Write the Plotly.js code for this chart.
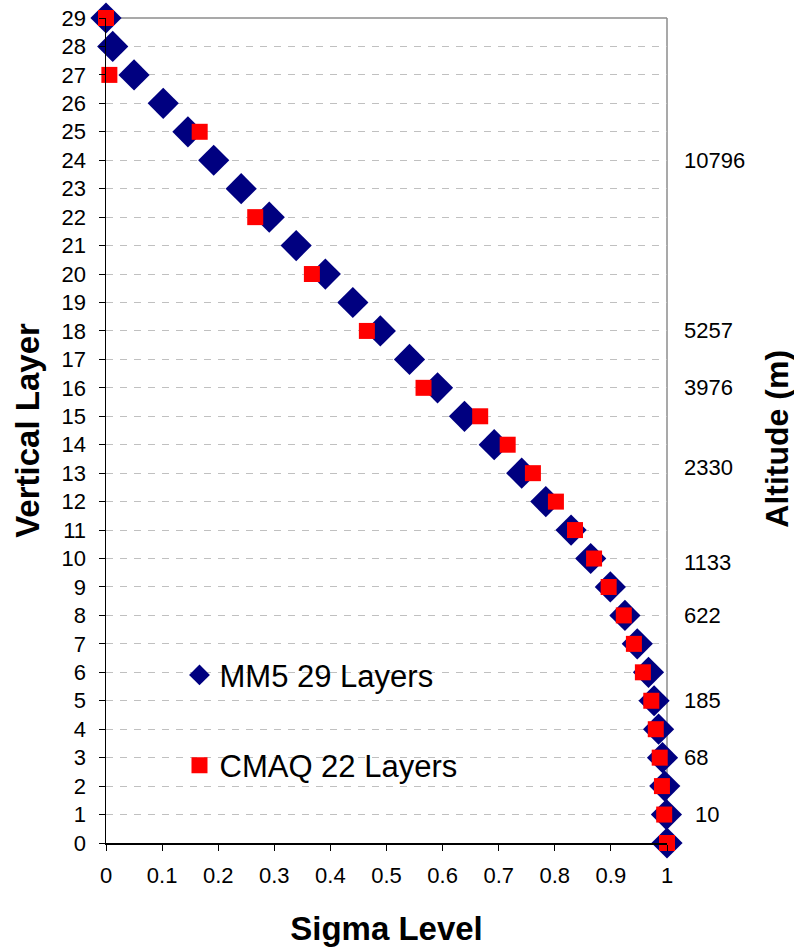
<!DOCTYPE html>
<html>
<head>
<meta charset="utf-8">
<script src="https://cdn.plot.ly/plotly-3.0.1.min.js"></script>
<style>
  html, body { margin: 0; padding: 0; background: #fff; }
  #chart { width: 794px; height: 950px; }
</style>
</head>
<body>
<div id="chart"></div>
<script>
// MM5 sigma levels, layer 0 (surface) to 29 (top)
var mm5Layers = [0, 1, 2, 3, 4, 5, 6, 7, 8, 9, 10, 11, 12, 13, 14, 15, 16, 17, 18, 19, 20, 21, 22, 23, 24, 25, 26, 27, 28, 29];
var mm5Sigma = [1.0, 0.999, 0.996, 0.992, 0.985, 0.977, 0.967, 0.947, 0.925, 0.899, 0.864, 0.829, 0.784, 0.741, 0.692,
                0.639, 0.591, 0.541, 0.489, 0.44, 0.391, 0.339, 0.291, 0.241, 0.192, 0.146, 0.102, 0.05, 0.012, 0.0];

// CMAQ sigma levels, plotted on the MM5 layer they line up with
var cmaqLayers = [0, 1, 2, 3, 4, 5, 6, 7, 8, 9, 10, 11, 12, 13, 14, 15, 16, 18, 20, 22, 25, 27, 29];
var cmaqSigma = [1.0, 0.995, 0.991, 0.987, 0.98, 0.972, 0.957, 0.941, 0.923, 0.896, 0.87, 0.836, 0.802, 0.761, 0.716,
                 0.667, 0.566, 0.465, 0.367, 0.266, 0.167, 0.006, 0.0];

// altitude labels on the right side
var altLayer = [24, 18, 16, 13.2, 9.85, 8, 5, 3, 1];
var altText = ['10796', '5257', '3976', '2330', '1133', '622', '185', '68', '10'];

var layerTicks = [];
for (var i = 0; i <= 29; i++) { layerTicks.push(i); }
var sigmaTicks = [0, 0.1, 0.2, 0.3, 0.4, 0.5, 0.6, 0.7, 0.8, 0.9, 1];
var sigmaTickText = ['0', '0.1', '0.2', '0.3', '0.4', '0.5', '0.6', '0.7', '0.8', '0.9', '1'];

var FONT = 'Arial, "Liberation Sans", sans-serif';

var trace1 = {
  x: mm5Sigma,
  y: mm5Layers,
  name: 'MM5 29 Layers',
  legendgroup: 'a',
  type: 'scatter',
  mode: 'markers',
  cliponaxis: false,
  marker: { symbol: 'diamond', size: 24, color: '#000080', line: { width: 0 } },
};

var trace2 = {
  x: cmaqSigma,
  y: cmaqLayers,
  name: 'CMAQ 22 Layers',
  legendgroup: 'b',
  type: 'scatter',
  mode: 'markers',
  cliponaxis: false,
  marker: { symbol: 'square', size: 16, color: '#ff0000', line: { width: 0 } },
};

var annotations = [];
for (var i = 0; i < altText.length; i++) {
  annotations.push({
    // x in paper units (just right of the frame), y on the layer axis
    xref: 'paper', yref: 'y',
    x: altText[i] == '10' ? 1.047 : 1.026,
    y: altLayer[i],
    xanchor: 'left', yanchor: 'middle',
    text: altText[i],
    showarrow: false,
    font: { family: FONT, size: 22, color: '#000' },
  });
}
// right-hand title
annotations.push({
  xref: 'paper', yref: 'paper',
  x: 1.196, y: 0.49,
  xanchor: 'center', yanchor: 'middle',
  textangle: -90,
  text: '<b>Altitude (m)</b>',
  showarrow: false,
  font: { family: FONT, size: 32, color: '#000' },
});

var layout = {
  width: 794,
  height: 950,
  margin: { l: 106, r: 127, t: 18, b: 107 },
  paper_bgcolor: '#fff',
  plot_bgcolor: '#fff',
  font: { family: FONT, color: '#000' },
  showlegend: true,
  legend: {
    x: 0.131, y: 0.236, xanchor: 'left', yanchor: 'top',
    bgcolor: 'rgba(0,0,0,0)',
    font: { family: FONT, size: 31, color: '#000' },
    tracegroupgap: 47,
    traceorder: 'grouped',
  },
  xaxis: {
    range: [0, 1],
    fixedrange: true,
    tickvals: sigmaTicks,
    ticktext: sigmaTickText,
    ticks: 'outside', ticklen: 6, tickwidth: 1, tickcolor: '#000',
    ticklabelstandoff: 6,
    tickfont: { family: FONT, size: 22 },
    showline: true, linecolor: '#000', linewidth: 1.5,
    showgrid: false, zeroline: false,
    title: { text: '<b>Sigma Level</b>', font: { family: FONT, size: 33 }, standoff: 30 },
  },
  yaxis: {
    range: [0, 29],
    fixedrange: true,
    tickvals: layerTicks,
    ticks: 'outside', ticklen: 6, tickwidth: 1, tickcolor: '#000',
    ticklabelstandoff: 8,
    tickfont: { family: FONT, size: 22 },
    showline: true, linecolor: '#000', linewidth: 1.5,
    showgrid: true, gridcolor: '#c0c0c0', gridwidth: 1, griddash: '7px,7px',
    zeroline: false,
    title: { text: '<b>Vertical Layer</b>', font: { family: FONT, size: 33 }, standoff: 12 },
  },
  shapes: [
    // grey frame on the top and right of the plot area
    { type: 'line', xref: 'paper', yref: 'paper', x0: 0, x1: 1, y0: 1, y1: 1, line: { color: '#8c8c8c', width: 1.5 }, layer: 'below' },
    { type: 'line', xref: 'paper', yref: 'paper', x0: 1, x1: 1, y0: 0, y1: 1, line: { color: '#8c8c8c', width: 1.5 }, layer: 'below' },
  ],
  annotations: annotations,
};

var config = { displayModeBar: false, staticPlot: true };

Plotly.newPlot('chart', [trace1, trace2], layout, config);
</script>
</body>
</html>
